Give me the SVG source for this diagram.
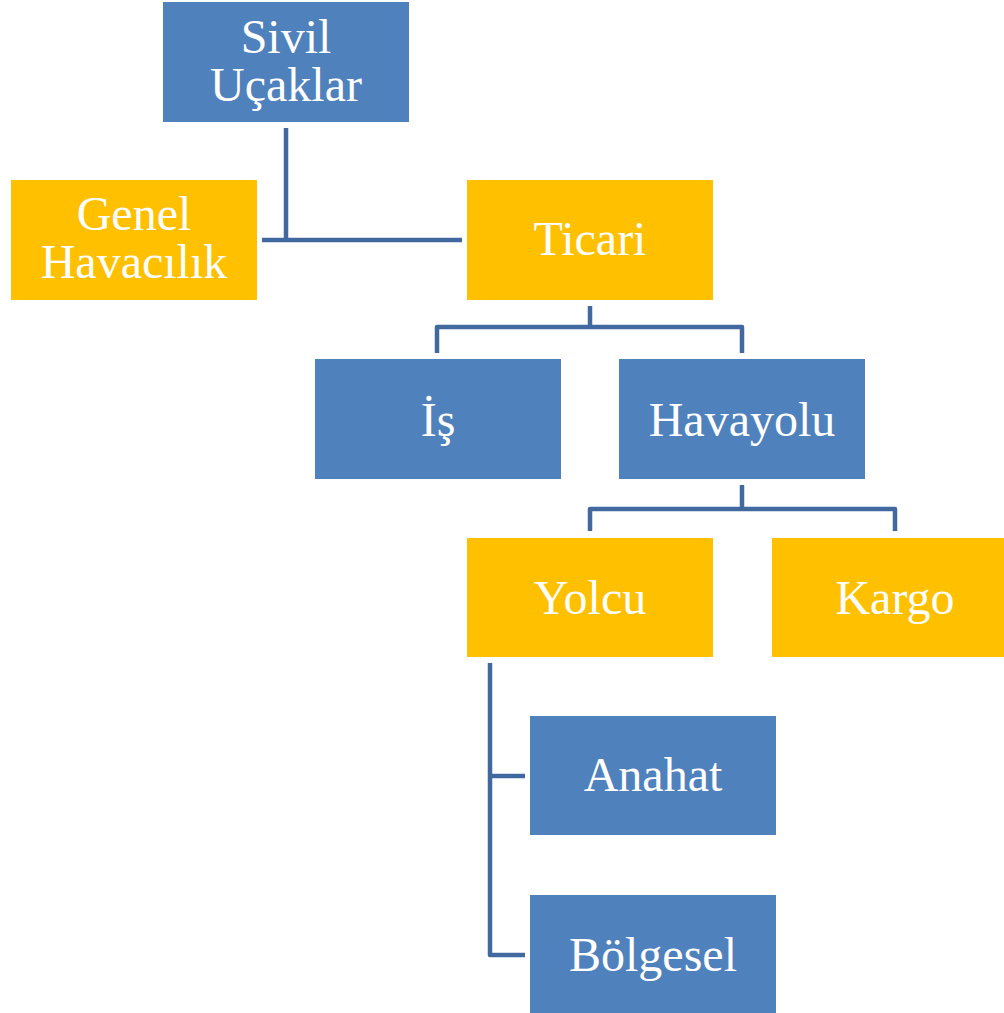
<svg xmlns="http://www.w3.org/2000/svg" width="1004" height="1013" viewBox="0 0 1004 1013">
<style>
.b{fill:#4f81bd}
.y{fill:#ffc000}
.t{font-family:'Liberation Serif','Times New Roman','DejaVu Serif',serif;font-size:48px;fill:#fff;text-anchor:middle}
.c{fill:none;stroke:#41699f;stroke-width:4.5;stroke-linejoin:round}
</style>
<rect width="1004" height="1013" fill="#fff"/>
<g id="connectors">
<path class="c" d="M286 128V240M262 240H462"/>
<path class="c" d="M590 306V327M437 353V327H742V353"/>
<path class="c" d="M742 485V509M590 531V509H895V531"/>
<path class="c" d="M490 663V955H525M490 776H525"/>
</g>
<g id="sivil"><rect class="b" x="163" y="2" width="246" height="120"/><text class="t" x="286" y="53">Sivil</text><text class="t" x="286" y="101">Uçaklar</text></g>
<g id="genel"><rect class="y" x="11" y="180" width="246" height="120"/><text class="t" x="134" y="230">Genel</text><text class="t" x="134" y="278">Havacılık</text></g>
<g id="ticari"><rect class="y" x="467" y="180" width="246" height="120"/><text class="t" x="590" y="255">Ticari</text></g>
<g id="is"><rect class="b" x="315" y="359" width="246" height="120"/><text class="t" x="438" y="436">İş</text></g>
<g id="havayolu"><rect class="b" x="619" y="359" width="246" height="120"/><text class="t" x="742" y="436">Havayolu</text></g>
<g id="yolcu"><rect class="y" x="467" y="538" width="246" height="119"/><text class="t" x="590" y="614">Yolcu</text></g>
<g id="kargo"><rect class="y" x="772" y="538" width="246" height="119"/><text class="t" x="895" y="614">Kargo</text></g>
<g id="anahat"><rect class="b" x="530" y="716" width="246" height="119"/><text class="t" x="653" y="791">Anahat</text></g>
<g id="bolgesel"><rect class="b" x="530" y="895" width="246" height="119"/><text class="t" x="653" y="971">Bölgesel</text></g>
</svg>
